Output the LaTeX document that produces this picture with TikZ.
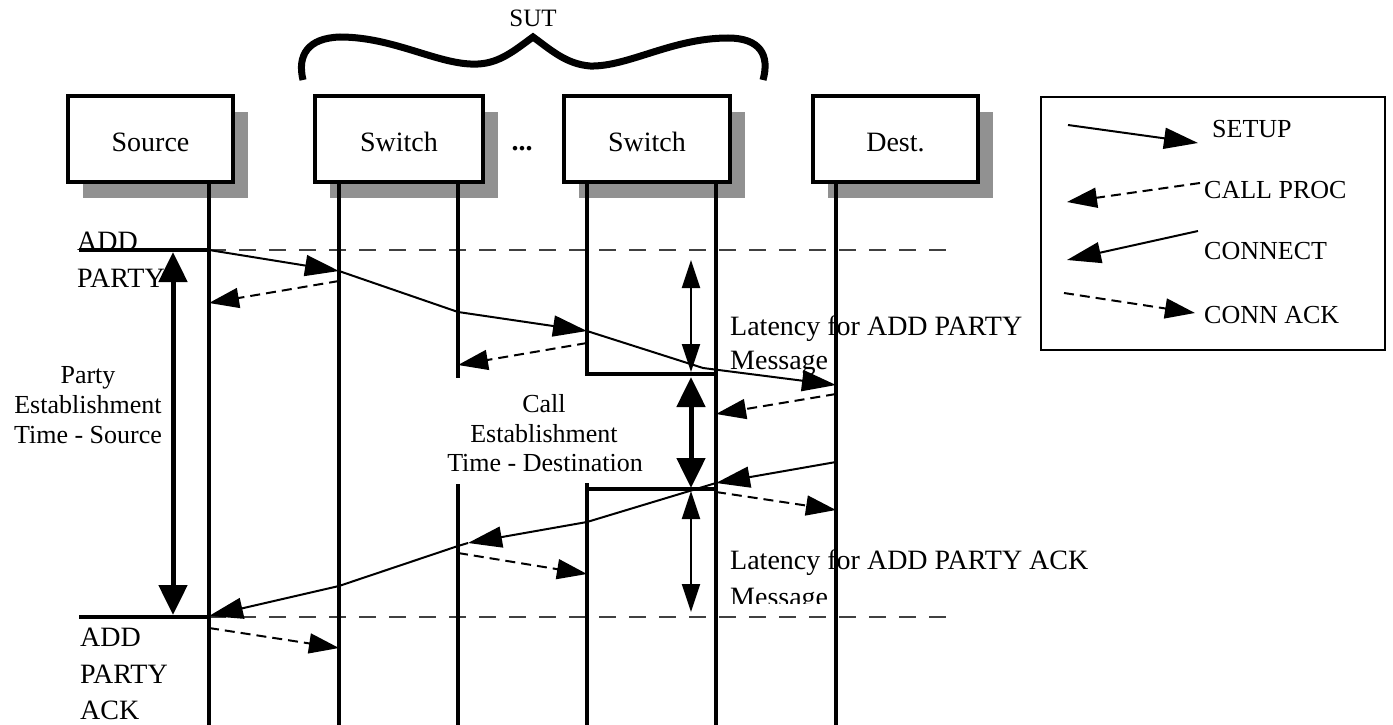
\documentclass[tikz,border=0pt]{standalone}
\usepackage{fontspec}
\setmainfont{Liberation Serif}
\usetikzlibrary{arrows.meta,backgrounds}
\begin{document}
\begin{tikzpicture}[x=1pt,y=-1pt,
  box/.style={draw=black,line width=4pt,fill=white,minimum width=165pt,minimum height=86pt,inner sep=0pt,outer sep=0pt},
  shadowc/.style={fill=black!43},
  lbl/.style={font=\fontsize{28}{34}\selectfont,inner sep=0pt,anchor=base},
  lblw/.style={font=\fontsize{28}{34}\selectfont,inner sep=0pt,anchor=base west},
  small/.style={font=\fontsize{26}{30}\selectfont,inner sep=0pt,anchor=base},
  smallw/.style={font=\fontsize{26}{30}\selectfont,inner sep=0pt,anchor=base west},
  life/.style={line width=4pt},
  msg/.style={line width=2pt,line join=round,-{Triangle[length=34pt,width=21pt]}},
  dmsg/.style={line width=2pt,dash pattern=on 10pt off 6pt,-{Triangle[length=30pt,width=20pt]}},
  refline/.style={line width=1.2pt,draw=black!75,dash pattern=on 17pt off 13pt},
  bigdbl/.style={line width=5pt,{Triangle[length=30pt,width=28pt]}-{Triangle[length=30pt,width=28pt]}},
  thindbl/.style={line width=2pt,{Triangle[length=28pt,width=18pt]}-{Triangle[length=28pt,width=18pt]}}
]
\useasboundingbox (0,0) rectangle (1393,725);

% SUT brace
\node[small,font=\fontsize{25}{30}\selectfont] (sut) at (533,27) {SUT};
\draw[line width=7pt,line cap=butt] (303,80) .. controls (297,55) and (308,38) .. (340,37)
  .. controls (395,37) and (440,66) .. (478,64)
  .. controls (500,63) and (515,50) .. (533,37)
  .. controls (551,50) and (566,64) .. (590,66)
  .. controls (628,67) and (672,38) .. (728,38)
  .. controls (760,38) and (770,55) .. (763,80);

% boxes
\node[box] (src) at (150.5,139) {};
\node[box,minimum width=168pt] (sw1) at (399,139) {};
\node[box,minimum width=166pt] (sw2) at (647,139) {};
\node[box] (dst) at (895.5,139) {};
\begin{scope}[on background layer]
  \foreach \n in {src,sw1,sw2,dst}{
    \fill[shadowc] ([shift={(15,16)}]\n.north west) rectangle ([shift={(15,16)}]\n.south east);
  }
\end{scope}
\node[lbl] (srcT) at (150.5,151) {Source};
\node[lbl] (sw1T) at (399,151) {Switch};
\node[lbl] (sw2T) at (647,151) {Switch};
\node[lbl] (dstT) at (895.5,151) {Dest.};
\node[lbl] (dots) at (522,150) {\textbf{...}};

% legend
\node[draw=black,line width=1.5pt,minimum width=344pt,minimum height=253pt,inner sep=0pt] (leg) at (1213,223.5) {};
\coordinate (la1) at (1068,125); \coordinate (la2) at (1198,143);
\coordinate (lb1) at (1200,183); \coordinate (lb2) at (1067,202);
\coordinate (lc1) at (1198,231); \coordinate (lc2) at (1067,260);
\coordinate (ld1) at (1064,293); \coordinate (ld2) at (1195,313);
\draw[msg] (la1) -- (la2);
\draw[dmsg] (lb1) -- (lb2);
\draw[msg] (lc1) -- (lc2);
\draw[dmsg] (ld1) -- (ld2);
\node[smallw] (legA) at (1212,137) {SETUP};
\node[smallw] (legB) at (1204,198) {CALL PROC};
\node[smallw] (legC) at (1204,259) {CONNECT};
\node[smallw] (legD) at (1204,323) {CONN ACK};

% texts
\node[lblw] (addA) at (77,250) {ADD};
\node[lblw] (addB) at (77,287) {PARTY};
\node[lblw] (ackA) at (80,646) {ADD};
\node[lblw] (ackB) at (80,683) {PARTY};
\node[lblw] (ackC) at (80,719) {ACK};
\node[small] (peA) at (88,383) {Party};
\node[small] (peB) at (88,413) {Establishment};
\node[small] (peC) at (88,443) {Time - Source};
\node[small] (ceA) at (544,412) {Call};
\node[small] (ceB) at (544,442) {Establishment};
\node[small] (ceC) at (545,471) {Time - Destination};
\node[lblw] (latA) at (730,335) {Latency for ADD PARTY};
\node[lblw] (latB) at (730,369) {Message};
\node[lblw] (latC) at (730,569) {Latency for ADD PARTY ACK};
\begin{scope}
  \clip (700,575) rectangle (1000,603);
  \node[lblw] (latD) at (730,606) {Message};
\end{scope}

% reference lines
\coordinate (r1a) at (79,250); \coordinate (r1b) at (209,250); \coordinate (r1c) at (952,250);
\coordinate (r2a) at (79,617); \coordinate (r2b) at (209,617); \coordinate (r2c) at (952,617);
\draw[refline] (r1b) -- (r1c);
\draw[refline] (r2b) -- (r2c);
\draw[line width=4pt] (r1a) -- (r1b);
\draw[line width=4pt] (r2a) -- (r2b);

% lifelines
\draw[life] (209,182) -- (209,725);
\draw[life] (339,182) -- (339,725);
\draw[life] (458,182) -- (458,378);
\draw[life] (458,484) -- (458,725);
\draw[life,line join=miter] (587,182) -- (587,374) -- (716,374);
\draw[life] (587,483) -- (587,725);
\draw[life] (587,489) -- (716,489);
\draw[life] (716,182) -- (716,725);
\draw[life] (836,182) -- (836,725);

% duration arrows
\coordinate (pe1) at (173,252); \coordinate (pe2) at (173,615);
\draw[bigdbl] (pe1) -- (pe2);
\coordinate (ce1) at (691,377); \coordinate (ce2) at (691,488);
\draw[bigdbl] (ce1) -- (ce2);
\coordinate (la1u) at (691,260); \coordinate (la2u) at (691,372);
\draw[thindbl] (la1u) -- (la2u);
\coordinate (lb1u) at (691,491); \coordinate (lb2u) at (691,612);
\draw[thindbl] (lb1u) -- (lb2u);

% SETUP (ADD PARTY) path
\coordinate (s0) at (209,250);
\coordinate (s1) at (339,271);
\coordinate (s1b) at (458,312);
\coordinate (s2) at (587,331);
\coordinate (s2b) at (703,368);
\coordinate (s3) at (836,385);
\draw[msg] (s0) -- (s1);
\draw[msg] (s1) -- (s1b) -- (s2);
\draw[msg] (s2) -- (s2b) -- (s3);

% CALL PROC
\coordinate (c1a) at (339,281); \coordinate (c1b) at (209,303);
\coordinate (c2a) at (587,343); \coordinate (c2b) at (458,365);
\coordinate (c3a) at (836,394); \coordinate (c3b) at (716,414);
\draw[dmsg] (c1a) -- (c1b);
\draw[dmsg] (c2a) -- (c2b);
\draw[dmsg] (c3a) -- (c3b);

% CONNECT (ADD PARTY ACK) path
\coordinate (k0) at (836,462);
\coordinate (k1) at (716,483);
\coordinate (k1b) at (587,522);
\coordinate (k2) at (468,543);
\coordinate (k2b) at (458,546);
\coordinate (k2c) at (339,586);
\coordinate (k3) at (209,616);
\draw[msg] (k0) -- (k1);
\draw[msg] (k1) -- (k1b) -- (k2);
\draw[msg] (k2) -- (k2b) -- (k2c) -- (k3);

% CONN ACK
\coordinate (a1a) at (716,492); \coordinate (a1b) at (836,510);
\coordinate (a2a) at (458,553); \coordinate (a2b) at (587,574);
\coordinate (a3a) at (209,628); \coordinate (a3b) at (339,648);
\draw[dmsg] (a1a) -- (a1b);
\draw[dmsg] (a2a) -- (a2b);
\draw[dmsg] (a3a) -- (a3b);
\end{tikzpicture}
\end{document}
